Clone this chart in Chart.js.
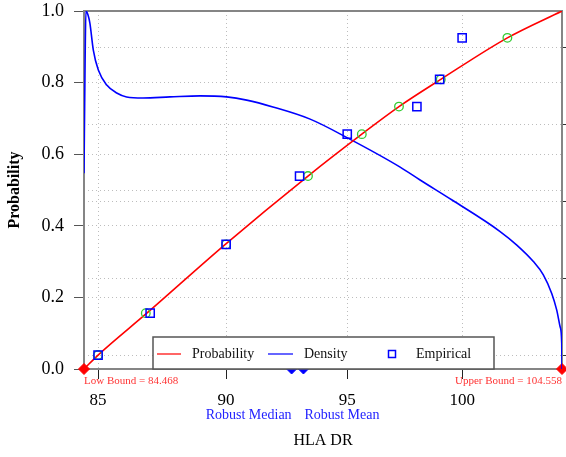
<!DOCTYPE html>
<html>
<head>
<meta charset="utf-8">
<script src="https://cdn.jsdelivr.net/npm/chart.js@4"></script>
<style>
    html, body { margin: 0; padding: 0; background: #fff; }
    #wrap { width: 566px; height: 457px; }
</style>
</head>
<body>
<div id="wrap"><canvas id="chart" width="566" height="457"></canvas></div>
<script>
// values
const lowBound = 84.468;
const upBound = 104.558;
const robustMedian = 92.67;
const robustMean = 93.16;

// fitted probability curve (red)
const probX = [84.468, 85.0, 86.87, 89.98, 93.35, 95.62, 97.22, 99.05, 102.04, 104.558];
const probY = [0, 0.039, 0.156, 0.349, 0.539, 0.656, 0.733, 0.809, 0.925, 1.0];

// density curve (blue), right axis, scaled to its own 0..1 range
const densX = [84.468, 84.51, 84.54, 84.62, 84.69, 84.82, 85.01, 85.33, 85.71, 86.09, 86.72, 87.77,
               88.96, 90.02, 90.83, 91.90, 93.44, 95.03, 97.27, 98.14, 99.55, 101.71, 102.47, 103.23,
               103.69, 104.08, 104.31, 104.47, 104.545, 104.558];
const densY = [0.547, 0.863, 1.0, 0.989, 0.966, 0.891, 0.835, 0.793, 0.771, 0.760, 0.757, 0.760,
               0.763, 0.760, 0.751, 0.732, 0.698, 0.645, 0.564, 0.528, 0.472, 0.384, 0.346, 0.300,
               0.263, 0.211, 0.165, 0.118, 0.072, 0];

// empirical points and their fitted quantiles
const empX = [85, 87, 90, 93, 95, 98, 99, 100];
const empY = [0.039, 0.156, 0.348, 0.539, 0.656, 0.733, 0.809, 0.925];
const fitX = [85.0, 86.83, 90.0, 93.35, 95.62, 97.22, 99.05, 102.04];

const xTicks = [85, 90, 95, 100];
const yTicks = [0, 0.2, 0.4, 0.5, 0.6, 0.8, 1.0];
const densTicks = [0.039, 0.254, 0.469, 0.684, 0.899];

const serif = '"Liberation Serif", "DejaVu Serif", serif';

const pts = (xs, ys) => xs.map((x, i) => ({ x: x, y: ys[i] }));

// fixed axis sizes, no extra label padding
function fitTo(w, h) {
    return s => {
        if (w !== null) s.width = w;
        if (h !== null) s.height = h;
        s.paddingTop = 0;
        s.paddingBottom = 0;
        s.paddingLeft = 0;
        s.paddingRight = 0;
    };
}

// frame, legend box and bound / robust labels
const extras = {
    id: 'extras',
    beforeDatasetsDraw(chart) {
        const { ctx, chartArea: a } = chart;
        ctx.save();
        ctx.strokeStyle = '#858585';
        ctx.lineWidth = 2;
        ctx.strokeRect(a.left, a.top, a.right - a.left, a.bottom - a.top);
        ctx.restore();
    },
    afterDatasetsDraw(chart) {
        const { ctx } = chart;
        ctx.save();
        // legend box
        ctx.fillStyle = '#fff';
        ctx.fillRect(153, 337, 341, 32);
        ctx.strokeStyle = '#555';
        ctx.lineWidth = 1.5;
        ctx.strokeRect(153, 337, 341, 32);
        const ly = 354;
        ctx.lineWidth = 2;
        ctx.strokeStyle = '#ff6666';
        ctx.beginPath(); ctx.moveTo(157, ly); ctx.lineTo(181, ly); ctx.stroke();
        ctx.strokeStyle = '#6666ff';
        ctx.beginPath(); ctx.moveTo(268, ly); ctx.lineTo(293, ly); ctx.stroke();
        ctx.strokeStyle = '#0000ff';
        ctx.lineWidth = 1.5;
        ctx.strokeRect(388.5, ly - 3.5, 7, 7);
        ctx.fillStyle = '#111';
        ctx.font = '14px ' + serif;
        ctx.textBaseline = 'middle';
        ctx.textAlign = 'left';
        ctx.fillText('Probability', 192, ly);
        ctx.fillText('Density', 304, ly);
        ctx.fillText('Empirical', 416, ly);
        ctx.restore();
    },
    afterDraw(chart) {
        const { ctx, scales: { x } } = chart;
        ctx.save();
        ctx.textBaseline = 'middle';
        ctx.font = '11px ' + serif;
        ctx.fillStyle = '#ff3333';
        ctx.textAlign = 'left';
        ctx.fillText('Low Bound = ' + lowBound, x.getPixelForValue(lowBound), 381);
        ctx.textAlign = 'right';
        ctx.fillText('Upper Bound = ' + upBound, x.getPixelForValue(upBound), 381);
        ctx.font = '14px ' + serif;
        ctx.fillStyle = '#2222ff';
        ctx.fillText('Robust Median', x.getPixelForValue(robustMedian), 415);
        ctx.textAlign = 'left';
        ctx.fillText('Robust Mean', x.getPixelForValue(robustMean) + 1, 415);
        ctx.restore();
    }
};

new Chart(document.getElementById('chart'), {
    type: 'scatter',
    data: {
        datasets: [
            {
                label: 'Empirical',
                data: pts(empX, empY),
                pointStyle: 'rect',
                pointRadius: 5.8,
                borderColor: '#0000ff',
                backgroundColor: 'transparent',
                borderWidth: 1.5,
                yAxisID: 'y'
            },
            {
                label: 'Fitted',
                data: pts(fitX, empY),
                pointStyle: 'circle',
                pointRadius: 4.3,
                borderColor: '#33cc33',
                backgroundColor: 'transparent',
                borderWidth: 1.3,
                yAxisID: 'y'
            },
            {
                label: 'Probability',
                data: pts(probX, probY),
                showLine: true,
                pointRadius: 0,
                borderColor: '#ff0000',
                borderWidth: 1.6,
                cubicInterpolationMode: 'monotone',
                yAxisID: 'y'
            },
            {
                label: 'Density',
                data: pts(densX, densY),
                showLine: true,
                pointRadius: 0,
                borderColor: '#0000ff',
                borderWidth: 1.6,
                cubicInterpolationMode: 'monotone',
                yAxisID: 'y2'
            },
            {
                label: 'Bounds',
                data: pts([lowBound, upBound], [0, 0]),
                pointStyle: 'rectRot',
                pointRadius: 5.5,
                backgroundColor: '#ff0000',
                borderColor: '#ff0000',
                clip: false,
                yAxisID: 'y'
            },
            {
                label: 'Robust',
                data: pts([robustMedian, robustMean], [0, 0]),
                pointStyle: 'rectRot',
                pointRadius: 5,
                backgroundColor: '#0000ff',
                borderColor: '#0000ff',
                clip: false,
                yAxisID: 'y'
            }
        ]
    },
    options: {
        responsive: false,
        animation: false,
        layout: { autoPadding: false, padding: { top: 11, left: 0, right: 0, bottom: 0 } },
        plugins: {
            legend: { display: false },
            tooltip: { enabled: false }
        },
        scales: {
            x: {
                type: 'logarithmic',
                min: lowBound,
                max: upBound,
                afterBuildTicks: s => { s.ticks = xTicks.map(v => ({ value: v })); },
                afterFit: fitTo(null, 88),
                border: { display: false, dash: [1, 3] },
                grid: { color: '#bdbdbd', tickColor: '#222', tickLength: 10, lineWidth: 1 },
                ticks: {
                    autoSkip: false,
                    maxRotation: 0,
                    padding: 11,
                    color: '#000',
                    font: { family: serif, size: 17 },
                    callback: v => String(v)
                },
                title: {
                    display: true,
                    text: 'HLA DR',
                    color: '#000',
                    font: { family: serif, size: 16 },
                    padding: { top: 0, bottom: 7 }
                }
            },
            y: {
                position: 'left',
                min: 0,
                max: 1,
                afterBuildTicks: s => { s.ticks = yTicks.map(v => ({ value: v })); },
                afterFit: fitTo(84, null),
                border: { display: false, dash: [1, 3] },
                grid: {
                    color: c => (c.tick && (c.tick.value === 0 || c.tick.value === 1)) ? 'rgba(0,0,0,0)' : '#bdbdbd',
                    tickColor: c => (c.tick && c.tick.value === 0.5) ? 'rgba(0,0,0,0)' : '#555',
                    tickLength: 10
                },
                ticks: {
                    padding: 10,
                    color: '#000',
                    font: { family: serif, size: 18 },
                    callback: v => v === 0.5 ? '' : v.toFixed(1)
                },
                title: {
                    display: true,
                    text: 'Probability',
                    color: '#000',
                    font: { family: serif, size: 16, weight: 'bold' },
                    padding: { top: 5, bottom: 0 }
                }
            },
            y2: {
                position: 'right',
                min: 0,
                max: 1,
                afterBuildTicks: s => { s.ticks = densTicks.map(v => ({ value: v })); },
                afterFit: fitTo(4, null),
                border: { display: false, dash: [1, 3] },
                grid: { color: '#bdbdbd', tickColor: '#333', tickLength: 6 },
                ticks: { display: false }
            }
        }
    },
    plugins: [extras]
});
</script>
</body>
</html>
